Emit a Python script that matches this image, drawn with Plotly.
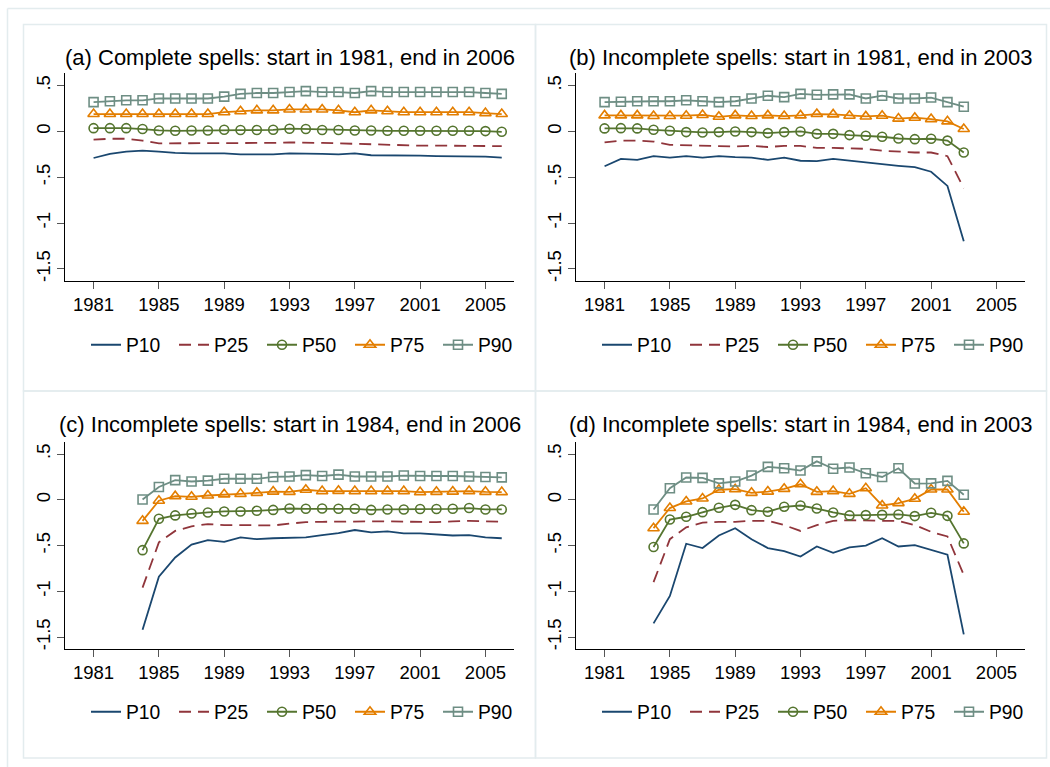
import plotly.graph_objects as go

# ---------------- data ----------------
names = ["P10", "P25", "P50", "P75", "P90"]

titles = [
    "(a) Complete spells: start in 1981, end in 2006",
    "(b) Incomplete spells: start in 1981, end in 2003",
    "(c) Incomplete spells: start in 1984, end in 2006",
    "(d) Incomplete spells: start in 1984, end in 2003",
]

years_a = list(range(1981, 2007))
years_b = list(range(1981, 2004))
years_c = list(range(1984, 2007))
years_d = list(range(1984, 2004))

a_p10 = [-0.29, -0.245, -0.22, -0.21, -0.22, -0.235, -0.24, -0.24, -0.24, -0.25, -0.25, -0.25, -0.24,
         -0.24, -0.245, -0.25, -0.24, -0.26, -0.26, -0.26, -0.265, -0.27, -0.27, -0.27, -0.275, -0.285]
a_p25 = [-0.09, -0.08, -0.08, -0.10, -0.13, -0.13, -0.13, -0.13, -0.13, -0.13, -0.13, -0.125, -0.12,
         -0.12, -0.125, -0.13, -0.135, -0.14, -0.15, -0.155, -0.155, -0.155, -0.155, -0.155, -0.155, -0.16]
a_p50 = [0.036, 0.036, 0.036, 0.026, 0.011, 0.007, 0.011, 0.011, 0.018, 0.015, 0.015, 0.018, 0.03,
         0.026, 0.015, 0.015, 0.011, 0.011, 0.007, 0.007, 0.007, 0.007, 0.007, 0.007, 0.004, -0.004]
a_p75 = [0.19, 0.19, 0.19, 0.19, 0.19, 0.19, 0.19, 0.19, 0.21, 0.22, 0.23, 0.23, 0.24,
         0.24, 0.24, 0.23, 0.21, 0.23, 0.22, 0.21, 0.21, 0.21, 0.21, 0.21, 0.20, 0.19]
a_p90 = [0.32, 0.33, 0.34, 0.34, 0.36, 0.36, 0.36, 0.36, 0.38, 0.41, 0.42, 0.42, 0.43,
         0.44, 0.43, 0.43, 0.42, 0.44, 0.43, 0.43, 0.43, 0.43, 0.43, 0.43, 0.42, 0.41]

b_p10 = [-0.38, -0.30, -0.31, -0.27, -0.285, -0.27, -0.285, -0.27, -0.28, -0.285, -0.31, -0.285,
         -0.32, -0.325, -0.30, -0.32, -0.34, -0.36, -0.375, -0.39, -0.44, -0.595, -1.20]
b_p25 = [-0.12, -0.10, -0.10, -0.11, -0.146, -0.153, -0.16, -0.16, -0.164, -0.157, -0.17, -0.157,
         -0.157, -0.18, -0.18, -0.186, -0.19, -0.21, -0.22, -0.23, -0.23, -0.27, -0.62]
b_p50 = [0.033, 0.036, 0.033, 0.018, 0.007, -0.007, -0.011, -0.007, 0.0, -0.007, -0.018, -0.007,
         0.0, -0.026, -0.026, -0.04, -0.047, -0.058, -0.077, -0.084, -0.08, -0.10, -0.23]
b_p75 = [0.175, 0.175, 0.175, 0.168, 0.168, 0.172, 0.18, 0.16, 0.175, 0.168, 0.175, 0.168,
         0.175, 0.19, 0.186, 0.172, 0.164, 0.172, 0.14, 0.15, 0.135, 0.11, 0.026]
b_p90 = [0.32, 0.325, 0.33, 0.33, 0.33, 0.34, 0.33, 0.32, 0.33, 0.36, 0.39, 0.375,
         0.41, 0.40, 0.405, 0.405, 0.36, 0.39, 0.36, 0.36, 0.37, 0.32, 0.27]

c_p10 = [-1.42, -0.84, -0.63, -0.49, -0.44, -0.46, -0.41, -0.43, -0.42, -0.415, -0.41, -0.385,
         -0.364, -0.33, -0.356, -0.345, -0.367, -0.367, -0.378, -0.39, -0.385, -0.41, -0.42]
c_p25 = [-0.96, -0.465, -0.34, -0.29, -0.265, -0.276, -0.276, -0.276, -0.28, -0.26, -0.244, -0.24,
         -0.236, -0.233, -0.236, -0.236, -0.24, -0.24, -0.244, -0.236, -0.23, -0.236, -0.24]
c_p50 = [-0.55, -0.207, -0.17, -0.15, -0.138, -0.127, -0.127, -0.12, -0.11, -0.095, -0.098, -0.095,
         -0.098, -0.098, -0.11, -0.105, -0.105, -0.10, -0.10, -0.098, -0.09, -0.105, -0.105]
c_p75 = [-0.23, -0.01, 0.04, 0.033, 0.047, 0.06, 0.065, 0.076, 0.09, 0.087, 0.11, 0.095,
         0.098, 0.095, 0.095, 0.095, 0.095, 0.084, 0.087, 0.09, 0.095, 0.087, 0.084]
c_p90 = [0.004, 0.14, 0.215, 0.20, 0.21, 0.23, 0.23, 0.23, 0.25, 0.255, 0.27, 0.26,
         0.275, 0.255, 0.255, 0.255, 0.265, 0.26, 0.26, 0.26, 0.255, 0.25, 0.245]

d_p10 = [-1.35, -1.05, -0.48, -0.527, -0.39, -0.31, -0.43, -0.527, -0.56, -0.62, -0.51, -0.58,
         -0.52, -0.50, -0.42, -0.51, -0.495, -0.55, -0.60, -1.47]
d_p25 = [-0.90, -0.43, -0.30, -0.25, -0.24, -0.24, -0.23, -0.23, -0.276, -0.34, -0.276, -0.23,
         -0.222, -0.23, -0.23, -0.23, -0.276, -0.35, -0.40, -0.82]
d_p50 = [-0.516, -0.215, -0.185, -0.135, -0.087, -0.055, -0.113, -0.13, -0.076, -0.062, -0.095, -0.138,
         -0.17, -0.167, -0.164, -0.16, -0.178, -0.142, -0.175, -0.476]
d_p75 = [-0.31, -0.09, -0.018, 0.015, 0.11, 0.116, 0.076, 0.09, 0.12, 0.17, 0.087, 0.095,
         0.065, 0.127, -0.062, -0.036, 0.011, 0.113, 0.113, -0.13]
d_p90 = [-0.105, 0.127, 0.244, 0.24, 0.18, 0.20, 0.265, 0.36, 0.345, 0.32, 0.42, 0.34,
         0.353, 0.29, 0.25, 0.345, 0.178, 0.18, 0.207, 0.055]

x_tickvals = [1981, 1985, 1989, 1993, 1997, 2001, 2005]
x_ticktext = ["1981", "1985", "1989", "1993", "1997", "2001", "2005"]
y_tickvals = [-1.5, -1, -0.5, 0, 0.5]
y_ticktext = ["-1.5", "-1", "-.5", "0", ".5"]

panels_data = [
    (years_a, [a_p10, a_p25, a_p50, a_p75, a_p90]),
    (years_b, [b_p10, b_p25, b_p50, b_p75, b_p90]),
    (years_c, [c_p10, c_p25, c_p50, c_p75, c_p90]),
    (years_d, [d_p10, d_p25, d_p50, d_p75, d_p90]),
]

# ---------------- style ----------------
W, H = 1050, 767
FONT = "Liberation Sans, Arial, Helvetica, sans-serif"
colors = ["#1a476f", "#90353b", "#55752f", "#e37e00", "#6e8e84"]
symbols = [None, None, "circle-open", "triangle-up-open", "square-open"]
msizes = [0, 0, 9, 10, 9]
dashes = ["solid", "12px,7px", "solid", "solid", "solid"]

def fx(p):
    return p / W

def fy(p):
    return 1 - p / H

# plot-area boxes in pixels (left, right, top, bottom)
boxes = [
    (65, 514, 73.3, 280.7),
    (576, 1025, 73.3, 280.7),
    (65, 514, 441.7, 649),
    (576, 1025, 441.7, 649),
]
legend_y = [345.2, 345.2, 712.2, 712.2]
title_y = [57.5, 57.5, 424.5, 424.5]

fig = go.Figure()

for i, ((yrs, series), box) in enumerate(zip(panels_data, boxes)):
    n = i + 1
    xa = "x" if n == 1 else f"x{n}"
    ya = "y" if n == 1 else f"y{n}"
    lg = "legend" if n == 1 else f"legend{n}"
    for k in range(5):
        mode = "lines" if symbols[k] is None else "lines+markers"
        tr = dict(
            x=yrs, y=series[k], name=names[k], mode=mode,
            line=dict(color=colors[k], width=1.8, dash=dashes[k]),
            xaxis=xa, yaxis=ya, legend=lg, showlegend=True,
        )
        if symbols[k] is not None:
            tr["marker"] = dict(symbol=symbols[k], size=msizes[k], color=colors[k],
                                line=dict(color=colors[k], width=1.6))
        fig.add_trace(go.Scatter(**tr))

    l, r, t, b = box
    xkey = "xaxis" if n == 1 else f"xaxis{n}"
    ykey = "yaxis" if n == 1 else f"yaxis{n}"
    fig.layout[xkey] = dict(
        domain=[fx(l), fx(r)], anchor=ya, range=[1979.25, 2006.75],
        tickmode="array", tickvals=x_tickvals, ticktext=x_ticktext,
        showline=True, linecolor="#000000", linewidth=1.2, mirror=False,
        ticks="outside", ticklen=7, tickwidth=1.2, tickcolor="#555555",
        showgrid=False, zeroline=False,
        tickfont=dict(family=FONT, size=18.5, color="#000000"),
        fixedrange=True,
    )
    fig.layout[ykey] = dict(
        domain=[fy(b), fy(t)], anchor=xa, range=[-1.63, 0.635],
        tickmode="array", tickvals=y_tickvals, ticktext=y_ticktext,
        showline=True, linecolor="#000000", linewidth=1.2, mirror=False,
        ticks="outside", ticklen=7, tickwidth=1.2, tickcolor="#555555",
        showgrid=False, zeroline=False, tickangle=-90,
        tickfont=dict(family=FONT, size=18.5, color="#000000"),
        fixedrange=True,
    )
    fig.layout[lg] = dict(
        orientation="h", x=fx(l + 21), xanchor="left",
        y=fy(legend_y[i]), yanchor="middle",
        entrywidth=43, entrywidthmode="pixels",
        font=dict(family=FONT, size=19.3, color="#000000"),
        bgcolor="rgba(0,0,0,0)", borderwidth=0, itemclick=False, itemdoubleclick=False,
    )
    fig.add_annotation(
        text=titles[i], xref="paper", yref="paper", x=fx((l + r) / 2), y=fy(title_y[i]),
        xanchor="center", yanchor="middle", showarrow=False,
        font=dict(family=FONT, size=22, color="#000000"),
    )

# light frame lines (outer graph region + panel borders)
frame = "#e3ecee"
shapes = [
    dict(type="line", x0=fx(7.5), x1=1, y0=fy(8.5), y1=fy(8.5)),
    dict(type="line", x0=fx(7.5), x1=fx(7.5), y0=fy(8.5), y1=0),
    dict(type="rect", x0=fx(23.5), x1=fx(535.5), y0=fy(391), y1=fy(24.5)),
    dict(type="rect", x0=fx(535.5), x1=fx(1046.5), y0=fy(391), y1=fy(24.5)),
    dict(type="rect", x0=fx(23.5), x1=fx(535.5), y0=fy(758), y1=fy(391)),
    dict(type="rect", x0=fx(535.5), x1=fx(1046.5), y0=fy(758), y1=fy(391)),
]
for s in shapes:
    s.update(xref="paper", yref="paper", line=dict(color=frame, width=1.5), layer="below")
    fig.add_shape(**s)

fig.update_layout(
    width=W, height=H, margin=dict(l=0, r=0, t=0, b=0),
    paper_bgcolor="#ffffff", plot_bgcolor="#ffffff",
    font=dict(family=FONT, color="#000000"),
)

fig.write_html(
    "out.html",
    config={"displayModeBar": False},
    post_script="document.body.style.margin='0px';document.body.style.overflow='hidden';",
)
